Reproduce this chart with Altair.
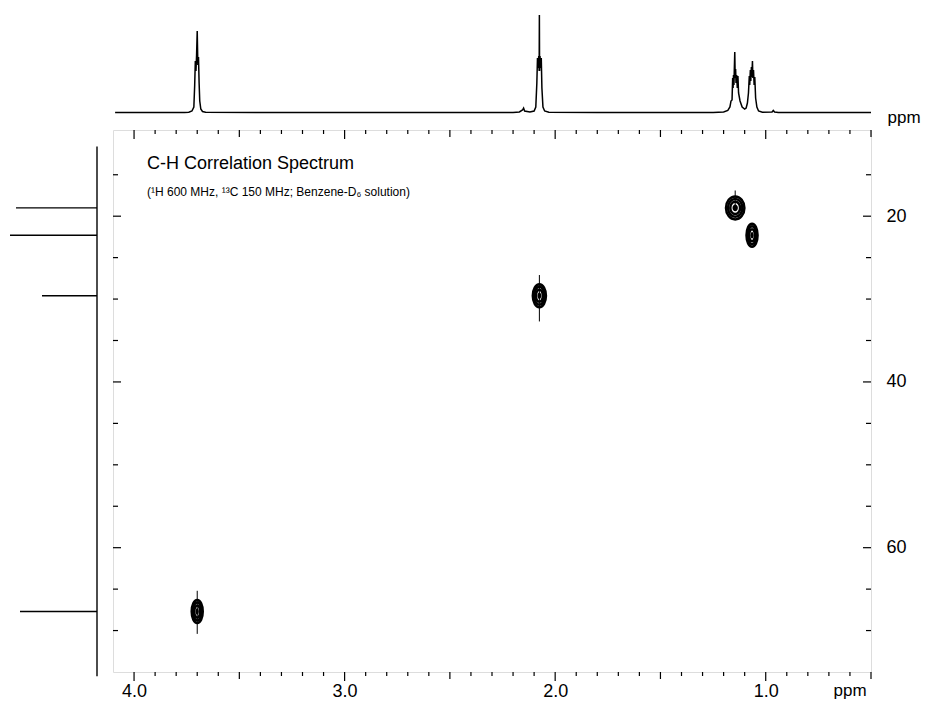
import altair as alt
import pandas as pd

W, H = 758, 542

# ---- 1H projection (top trace): chemical shift (ppm) and intensity
H_PPM = [4.090, 3.900, 3.760, 3.740, 3.725, 3.716, 3.712, 3.709, 3.706, 3.703, 3.700, 3.697,
         3.694, 3.691, 3.688, 3.683, 3.675, 3.660, 3.400, 3.000, 2.500, 2.200, 2.170,
         2.155, 2.150, 2.145, 2.120, 2.100, 2.092, 2.087, 2.084, 2.081, 2.078, 2.076, 2.075,
         2.074, 2.072, 2.069, 2.066, 2.063, 2.058, 2.050, 2.030, 1.800, 1.500, 1.250, 1.200,
         1.180, 1.170, 1.165, 1.160, 1.157, 1.155, 1.153, 1.151, 1.149, 1.147, 1.145, 1.143,
         1.141, 1.138, 1.135, 1.132, 1.129, 1.122, 1.112, 1.100, 1.093, 1.087, 1.082, 1.078,
         1.076, 1.073, 1.071, 1.068, 1.066, 1.063, 1.061, 1.058, 1.055, 1.052, 1.048, 1.042,
         1.034, 1.016, 0.970, 0.964, 0.958, 0.940, 0.700, 0.500]
H_INT = [0.5, 0.5, 0.6, 0.8, 2, 6, 28, 52, 42, 58, 82, 48,
         56, 30, 12, 4, 1.5, 0.8, 0.5, 0.5, 0.5, 0.6, 1,
         3, 5, 2, 1, 2, 6, 30, 55, 45, 57, 42, 98,
         42, 57, 45, 55, 25, 6, 2, 0.8, 0.5, 0.5, 0.6, 1,
         2.5, 6, 12, 13, 35, 25, 38, 28, 45, 61, 35, 44,
         30, 38, 25, 37, 20, 12, 6, 4, 5, 10, 20, 37,
         28, 43, 32, 46, 36, 52, 35, 43, 28, 36, 15, 6,
         2, 0.8, 1, 2.5, 1, 0.6, 0.5, 0.5]

# ---- 13C projection (left sticks)
C13_PPM = [19.0, 22.3, 29.6, 67.7]
C13_INT = [81, 87, 55, 77]
C13_BASE_LO = [11.6]
C13_BASE_HI = [75.5]

# ---- cross peaks
CROSS_H = [3.700, 2.075, 1.145, 1.065]
CROSS_C = [67.7, 29.6, 19.0, 22.3]
CROSS_KIND = ["narrow", "medium", "wide", "narrow"]
TAIL_LO = [65.2, 27.1, 16.9, 22.3]
TAIL_HI = [70.4, 32.7, 19.0, 22.3]

# ---- axis ticks / labels
X_MAJOR = [1.0, 2.0, 3.0, 4.0]
X_MID = [0.5, 1.5, 2.5, 3.5]
X_MINOR = [0.6, 0.7, 0.8, 0.9, 1.1, 1.2, 1.3, 1.4, 1.6, 1.7, 1.8, 1.9,
           2.1, 2.2, 2.3, 2.4, 2.6, 2.7, 2.8, 2.9, 3.1, 3.2, 3.3, 3.4,
           3.6, 3.7, 3.8, 3.9]
Y_MAJOR = [20, 40, 60]
Y_MINOR = [15, 25, 30, 35, 45, 50, 55, 65, 70]

FONT = "Liberation Sans"

xs = alt.Scale(domain=[0.5, 4.1], reverse=True, nice=False, zero=False)
ys = alt.Scale(domain=[9.6, 75.0], reverse=True, nice=False, zero=False)
top_int = alt.Scale(domain=[0, 100], range=[-17, -117], nice=False, zero=False)
left_int = alt.Scale(domain=[0, 100], range=[-16, -116], nice=False, zero=False)

df_h = pd.DataFrame({"ppm": H_PPM, "inten": H_INT, "idx": list(range(len(H_PPM)))})
df_c = pd.DataFrame({"ppm": C13_PPM, "inten": C13_INT, "zero": [0] * len(C13_PPM)})
df_base = pd.DataFrame({"lo": C13_BASE_LO, "hi": C13_BASE_HI, "zero": [0]})
df_x = pd.DataFrame({"h": CROSS_H, "c": CROSS_C, "kind": CROSS_KIND,
                     "lo": TAIL_LO, "hi": TAIL_HI})
one = pd.DataFrame({"a": [0]})


def ell(a):
    k = 0.5523
    return (f"M0,-1C{k*a:.3f},-1 {a:.3f},{-k:.3f} {a:.3f},0"
            f"C{a:.3f},{k:.3f} {k*a:.3f},1 0,1"
            f"C{-k*a:.3f},1 {-a:.3f},{k:.3f} {-a:.3f},0"
            f"C{-a:.3f},{-k:.3f} {-k*a:.3f},-1 0,-1Z")


shape_enc = alt.Shape("kind:N", legend=None,
                      scale=alt.Scale(domain=["narrow", "medium", "wide"],
                                      range=[ell(0.48), ell(0.57), ell(0.8)]))

layers = []

# top 1H trace
layers.append(alt.Chart(df_h).mark_line(color="black", strokeWidth=1.5).encode(
    x=alt.X("ppm:Q", scale=xs, axis=None),
    y=alt.Y("inten:Q", scale=top_int, axis=None),
    order=alt.Order("idx:Q")))

# left 13C baseline and sticks
layers.append(alt.Chart(df_base).mark_rule(color="black", strokeWidth=1.4).encode(
    x=alt.X("zero:Q", scale=left_int, axis=None),
    y=alt.Y("lo:Q", scale=ys, axis=None), y2="hi:Q"))
layers.append(alt.Chart(df_c).mark_rule(color="black", strokeWidth=1.4).encode(
    x=alt.X("zero:Q", scale=left_int, axis=None), x2="inten:Q",
    y=alt.Y("ppm:Q", scale=ys, axis=None)))

# cross-peak tails
layers.append(alt.Chart(df_x).mark_rule(color="black", strokeWidth=1).encode(
    x=alt.X("h:Q", scale=xs, axis=None),
    y=alt.Y("lo:Q", scale=ys, axis=None), y2="hi:Q"))

# cross-peak contour rings (with axes for labels on the first)
ring_sizes = [529, 320, 150]
for i, s in enumerate(ring_sizes):
    if i == 0:
        xenc = alt.X("h:Q", scale=xs, axis=alt.Axis(
            values=X_MAJOR, format=".1f", ticks=False, domain=False, grid=False,
            labelPadding=10, labelFontSize=18, labelFont=FONT, labelColor="black",
            orient="bottom", title=None, labelFlush=False))
        yenc = alt.Y("c:Q", scale=ys, axis=alt.Axis(
            values=Y_MAJOR, ticks=False, domain=False, grid=False,
            labelPadding=15, labelFontSize=18, labelFont=FONT, labelColor="black",
            orient="right", title=None, labelFlush=False))
    else:
        xenc = alt.X("h:Q", scale=xs, axis=None)
        yenc = alt.Y("c:Q", scale=ys, axis=None)
    layers.append(alt.Chart(df_x).mark_point(filled=False, color="black", strokeWidth=2.5,
                                             size=s, opacity=1).encode(
        x=xenc, y=yenc, shape=shape_enc))
layers.append(alt.Chart(df_x).mark_point(filled=True, color="black", size=45, opacity=1).encode(
    x=alt.X("h:Q", scale=xs, axis=None), y=alt.Y("c:Q", scale=ys, axis=None), shape=shape_enc))


# frame ticks
def xticks(values, y0, y1):
    return alt.Chart(pd.DataFrame({"v": values})).mark_rule(color="black", strokeWidth=1.2).encode(
        x=alt.X("v:Q", scale=xs, axis=None), y=alt.value(y0), y2=alt.value(y1))


def yticks(values, x0, x1):
    return alt.Chart(pd.DataFrame({"v": values})).mark_rule(color="black", strokeWidth=1.2).encode(
        y=alt.Y("v:Q", scale=ys, axis=None), x=alt.value(x0), x2=alt.value(x1))


for vals, ln in [(X_MAJOR, 9), (X_MID, 7), (X_MINOR, 4)]:
    layers.append(xticks(vals, H, H + ln))
    layers.append(xticks(vals, 0, ln))
for vals, ln in [(Y_MAJOR, 8), (Y_MINOR, 5)]:
    layers.append(yticks(vals, 0, ln))
    layers.append(yticks(vals, W, W - ln))


# texts
def txt(t, x, y, size, align="left", baseline="alphabetic"):
    return alt.Chart(one).mark_text(text=t, align=align, baseline=baseline, fontSize=size,
                                    font=FONT, color="black").encode(
        x=alt.value(x), y=alt.value(y))


layers.append(txt("C-H Correlation Spectrum", 34, 39, 18))
layers.append(txt("(\u00b9H 600 MHz, \u00b9\u00b3C 150 MHz; Benzene-D\u2086 solution)", 34, 66, 12))
layers.append(txt("ppm", 737, 566, 17, align="center"))
layers.append(txt("ppm", 791, -7, 17, align="center"))

chart = alt.layer(*layers).resolve_scale(x="independent", y="independent").properties(
    width=W, height=H,
    autosize=alt.AutoSizeParams(type="none"),
    padding={"left": 105, "top": 122, "right": 52, "bottom": 34},
).configure_view(stroke="black", strokeWidth=1.6).configure(background="white")

chart.save("out.html", embed_options={"renderer": "svg", "actions": False})
